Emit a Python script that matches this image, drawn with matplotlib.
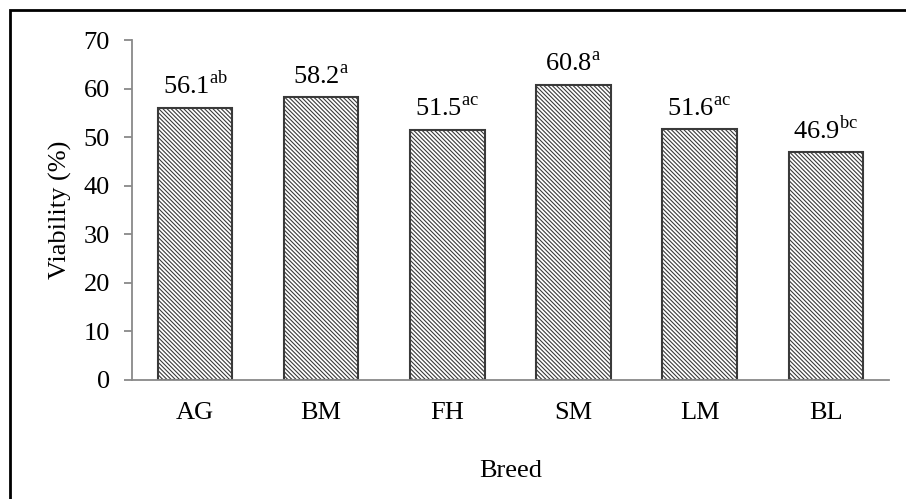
import matplotlib.pyplot as plt
from matplotlib.patches import Rectangle

# Data
breeds = ["AG", "BM", "FH", "SM", "LM", "BL"]
viability = [56.1, 58.2, 51.5, 60.8, 51.6, 46.9]
letters = ["ab", "a", "ac", "a", "ac", "bc"]

plt.rcParams['font.family'] = 'Liberation Serif'
plt.rcParams['mathtext.fontset'] = 'custom'
plt.rcParams['mathtext.rm'] = 'Liberation Serif'
plt.rcParams['hatch.linewidth'] = 0.8

fig = plt.figure(figsize=(9.06, 4.99), dpi=100)
ax = fig.add_axes([0.1457, 0.2385, 0.8353, 0.6813])

x = range(len(breeds))
bars = ax.bar(x, viability, width=0.59, color='white', edgecolor='#3a3a3a',
              linewidth=1.5, hatch='\\' * 8)

# value labels with superscript letters
for b, v, s in zip(bars, viability, letters):
    ax.annotate(f"{v:.1f}" + r"$^{\mathrm{" + s + "}}$",
                (b.get_x() + b.get_width() / 2, v),
                xytext=(0, 6), textcoords='offset points',
                ha='center', va='bottom', fontsize=19)

ax.set_xlim(-0.5, len(breeds) - 0.5)
ax.set_ylim(0, 70)
ax.set_yticks(range(0, 71, 10))
ax.set_xticks(list(x))
ax.set_xticklabels(breeds)
ax.tick_params(axis='both', labelsize=19)
ax.tick_params(axis='x', length=0, pad=16)
ax.tick_params(axis='y', length=6, width=1.3, color='#898989', direction='out', pad=10)

for sp in ['top', 'right']:
    ax.spines[sp].set_visible(False)
for sp in ['left', 'bottom']:
    ax.spines[sp].set_color('#898989')
    ax.spines[sp].set_linewidth(1.3)

ax.set_ylabel('Viability (%)', fontsize=19, labelpad=8)
ax.set_xlabel('Breed', fontsize=19, labelpad=26)

# outer frame (cropped on right and bottom)
fig.patches.append(Rectangle((0.0105, -0.1), 1.1, 1.08, transform=fig.transFigure,
                             fill=False, edgecolor='black', linewidth=2, clip_on=False))

fig.savefig('out.png', dpi=100)
